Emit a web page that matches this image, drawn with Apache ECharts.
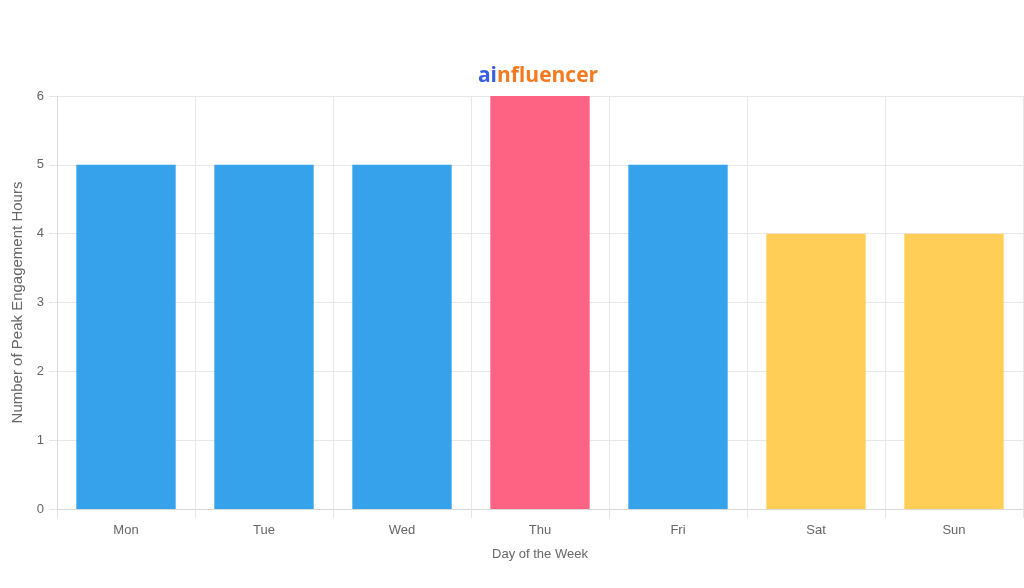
<!DOCTYPE html>
<html>
<head>
<meta charset="utf-8">
<title>Peak Engagement Hours</title>
<script src="https://cdn.jsdelivr.net/npm/echarts@6/dist/echarts.min.js"></script>
<style>
  html, body { margin: 0; padding: 0; background: #fff; }
  #chart { width: 1024px; height: 588px; }
</style>
</head>
<body>
<div id="chart"></div>
<script>
    var days = ['Mon', 'Tue', 'Wed', 'Thu', 'Fri', 'Sat', 'Sun'];
    var hours = [5, 5, 5, 6, 5, 4, 4];
    var barColors = ['#36A2EB', '#36A2EB', '#36A2EB', '#FF6384', '#36A2EB', '#FFCE56', '#FFCE56'];
    var yTicks = [0, 1, 2, 3, 4, 5, 6];

    var myChart = echarts.init(document.getElementById('chart'));
    var font = '"Liberation Sans", Arial, sans-serif';

    var option = {
        animation: false,
        textStyle: { fontFamily: font },
        // logo text above the plot
        graphic: [{
            type: 'text',
            x: 538,
            y: 76,
            style: {
                text: '{a|ai}{b|nfluencer}',
                align: 'center',
                verticalAlign: 'middle',
                rich: {
                    a: { fill: '#3b5fe0', fontSize: 21, fontWeight: 'bold', fontFamily: '"Open Sans", sans-serif' },
                    b: { fill: '#f47a20', fontSize: 21, fontWeight: 'bold', fontFamily: '"Open Sans", sans-serif' }
                }
            }
        }],
        grid: { left: 57, right: 1, top: 96, bottom: 79, outerBoundsMode: 'none' },
        xAxis: {
            type: 'category',
            data: days,
            name: 'Day of the Week',
            nameLocation: 'middle',
            nameGap: 39,
            nameTextStyle: { color: '#666', fontSize: 13 },
            axisLine: { lineStyle: { color: '#d9d9d9' } },
            axisTick: { show: true, length: 9, lineStyle: { color: '#e5e5e5' } },
            axisLabel: { color: '#666', fontSize: 13, margin: 15 },
            splitLine: { show: true, lineStyle: { color: '#e8e8e8' } }
        },
        yAxis: {
            type: 'value',
            min: yTicks[0],
            max: yTicks[yTicks.length - 1],
            interval: 1,
            name: 'Number of Peak Engagement Hours',
            nameLocation: 'middle',
            nameGap: 32,
            nameTextStyle: { color: '#666', fontSize: 15 },
            axisLine: { show: true, lineStyle: { color: '#d9d9d9' } },
            axisTick: { show: true, length: 8, lineStyle: { color: '#e5e5e5' } },
            axisLabel: { color: '#666', fontSize: 13, margin: 13 },
            splitLine: { show: true, lineStyle: { color: '#e8e8e8' } }
        },
        series: [{
            type: 'bar',
            barWidth: '72%',
            data: hours.map(function (v, i) {
                return { value: v, itemStyle: { color: barColors[i] } };
            })
        }]
    };

    myChart.setOption(option);
</script>
</body>
</html>
